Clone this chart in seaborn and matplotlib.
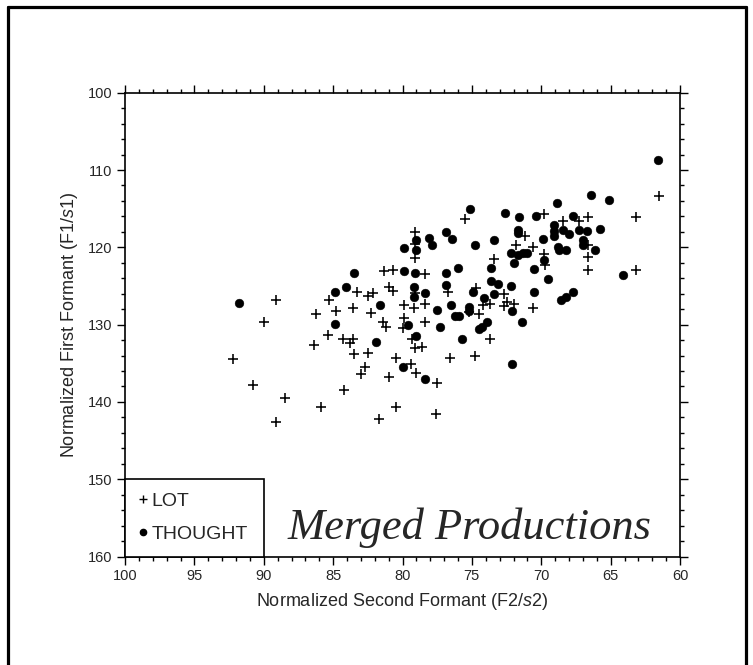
import numpy as np
import pandas as pd
import matplotlib.pyplot as plt
import seaborn as sns
from matplotlib.lines import Line2D
from matplotlib.ticker import MultipleLocator

# =========================
# DATA
# =========================
lot_f2 = [61.5, 63.2, 63.2, 66.6, 66.6, 66.6, 66.6, 67.3, 68.4, 69.8, 69.8, 69.7,
          70.6, 70.6, 71.2, 71.8, 72.0, 72.7, 72.7, 72.5, 73.4, 73.7, 73.7, 74.5,
          74.7, 74.8, 75.2, 75.5, 76.7, 76.6, 77.5, 77.6, 78.4, 78.4, 78.4, 78.6,
          79.1, 79.1, 79.1, 79.1, 79.2, 79.3, 79.1, 79.4, 79.0, 79.9, 79.9, 80.0,
          80.5, 80.5, 81.0, 80.7, 81.3, 81.0, 80.7, 81.7, 81.4, 81.2, 82.1, 82.5,
          82.3, 82.5, 82.7, 83.0, 83.3, 83.6, 83.6, 83.8, 83.5, 84.3, 84.2, 84.8,
          85.3, 85.4, 85.9, 86.2, 86.4, 89.1, 90.0, 88.5, 89.1, 90.8, 92.2, 74.2]
lot_f1 = [113.4, 116.1, 123.0, 116.1, 119.7, 121.2, 123.0, 116.6, 116.6, 115.7, 120.9, 122.3,
          119.9, 127.9, 118.5, 119.7, 127.3, 126.0, 127.6, 127.1, 121.5, 127.3, 131.8, 128.6,
          125.3, 134.1, 128.4, 116.4, 125.8, 134.3, 137.6, 141.6, 123.4, 127.3, 129.7, 132.9,
          118.0, 119.6, 121.4, 125.9, 127.8, 131.9, 133.0, 135.1, 136.2, 127.4, 129.1, 130.4,
          134.3, 140.6, 136.8, 123.0, 123.1, 125.1, 125.6, 142.2, 129.7, 130.3, 125.9, 126.3,
          128.5, 133.7, 135.5, 136.4, 125.8, 127.9, 131.8, 132.4, 133.8, 131.8, 138.4, 128.2,
          126.8, 131.3, 140.6, 128.6, 132.6, 126.8, 129.7, 139.5, 142.6, 137.8, 134.4, 127.5]

thought_f2 = [61.6, 66.4, 65.1, 68.9, 75.1, 72.6, 65.8, 71.6, 71.7, 71.7, 70.4, 67.7,
              68.4, 69.1, 69.1, 69.1, 67.3, 66.7, 68.0, 67.0, 67.0, 66.1, 68.8, 68.2,
              68.7, 69.9, 69.8, 69.5, 68.6, 68.2, 67.7, 64.1, 70.5, 70.5, 71.4, 72.1,
              72.1, 72.2, 72.2, 71.7, 71.3, 71.0, 72.0, 73.4, 73.6, 73.6, 73.1, 73.4,
              74.1, 73.9, 74.5, 74.3, 74.9, 74.8, 75.9, 76.2, 75.2, 75.2, 75.7, 76.5,
              76.9, 76.9, 76.0, 76.4, 76.9, 78.1, 77.9, 78.4, 77.3, 77.5, 79.0, 79.0,
              79.1, 79.2, 79.2, 79.0, 79.6, 79.9, 79.9, 80.0, 78.4, 81.6, 81.9, 83.5,
              84.1, 84.9, 84.9, 91.8]
thought_f1 = [108.7, 113.2, 113.9, 114.3, 115.1, 115.5, 117.6, 116.1, 117.7, 118.2, 116.0, 115.9,
              117.7, 117.1, 117.9, 118.5, 117.7, 117.9, 118.3, 119.0, 119.7, 120.4, 119.9, 120.3,
              120.3, 118.9, 121.7, 124.1, 126.8, 126.4, 125.8, 123.6, 122.8, 125.8, 129.6, 128.2,
              135.1, 125.0, 120.7, 121.0, 120.8, 120.7, 122.0, 119.1, 122.7, 124.3, 124.7, 126.0,
              126.6, 129.7, 130.6, 130.3, 125.8, 119.7, 128.9, 128.9, 127.7, 128.2, 131.8, 127.4,
              124.9, 123.3, 122.7, 118.9, 118.0, 118.8, 119.7, 125.9, 130.3, 128.1, 119.0, 120.4,
              123.3, 125.1, 126.4, 131.5, 130.1, 120.1, 123.1, 135.5, 137.0, 127.5, 132.2, 123.3,
              125.2, 125.8, 129.9, 127.2]

lot = pd.DataFrame({"F2": lot_f2, "F1": lot_f1})
thought = pd.DataFrame({"F2": thought_f2, "F1": thought_f1})

# =========================
# STYLE
# =========================
sns.set_style("ticks")
plt.rcParams["font.family"] = ["Liberation Sans", "DejaVu Sans"]
plt.rcParams["mathtext.fontset"] = "custom"
plt.rcParams["mathtext.it"] = "Liberation Sans:italic"
plt.rcParams["mathtext.rm"] = "Liberation Sans"

fig = plt.figure(figsize=(7.53, 6.65), dpi=100)
ax = fig.add_axes([125 / 753, 1 - 556.5 / 665, 555 / 753, 463.8 / 665])

# =========================
# SCATTER
# =========================
sns.scatterplot(data=lot, x="F2", y="F1", marker="+", color="black",
                s=45, linewidth=1.15, ax=ax, legend=False)
sns.scatterplot(data=thought, x="F2", y="F1", marker="o", color="black",
                s=40, edgecolor="black", linewidth=0.3, ax=ax, legend=False)

ax.set_xlim(100, 60)
ax.set_ylim(160, 100)
ax.xaxis.set_major_locator(MultipleLocator(5))
ax.xaxis.set_minor_locator(MultipleLocator(1))
ax.yaxis.set_major_locator(MultipleLocator(10))
ax.yaxis.set_minor_locator(MultipleLocator(2))
ax.tick_params(which="both", direction="out", top=True, right=True,
               labeltop=False, labelright=False, width=1, color="black")
ax.tick_params(which="major", length=6, labelsize=10.5, pad=3)
ax.tick_params(which="minor", length=3)
for sp in ax.spines.values():
    sp.set_linewidth(1.2)
    sp.set_color("black")

ax.set_xlabel(r"Normalized Second Formant (F2/$\mathit{s}$2)", fontsize=13, labelpad=6)
ax.set_ylabel(r"Normalized First Formant (F1/$\mathit{s}$1)", fontsize=13, labelpad=6)

# legend box in the lower-left corner
handles = [Line2D([], [], marker="+", color="black", linestyle="", markersize=6, markeredgewidth=1),
           Line2D([], [], marker="o", color="black", linestyle="", markersize=4.5)]
leg = ax.legend(handles, ["LOT", "THOUGHT"], loc="lower left",
                bbox_to_anchor=(0, 0, 0.25, 0.2), mode="expand", borderaxespad=0,
                fontsize=14, handlelength=0.5, handletextpad=0.2, labelspacing=0.8,
                borderpad=0.68, fancybox=False, framealpha=1)
leg.get_frame().set_edgecolor("black")
leg.get_frame().set_linewidth(1.2)

ax.text(0.62, 0.062, "Merged Productions", transform=ax.transAxes,
        ha="center", va="center", fontsize=32, fontstyle="italic",
        family=["Liberation Serif", "DejaVu Serif"])

# outer black frame (open at the bottom)
W, H = 753, 665
fig.add_artist(Line2D([8 / W, 8 / W], [0, 1 - 7 / H], transform=fig.transFigure, color="black", lw=2.3))
fig.add_artist(Line2D([8 / W, 746 / W], [1 - 7 / H, 1 - 7 / H], transform=fig.transFigure, color="black", lw=2.3))
fig.add_artist(Line2D([746 / W, 746 / W], [0, 1 - 7 / H], transform=fig.transFigure, color="black", lw=2.3))

plt.savefig("out.png", dpi=100)
